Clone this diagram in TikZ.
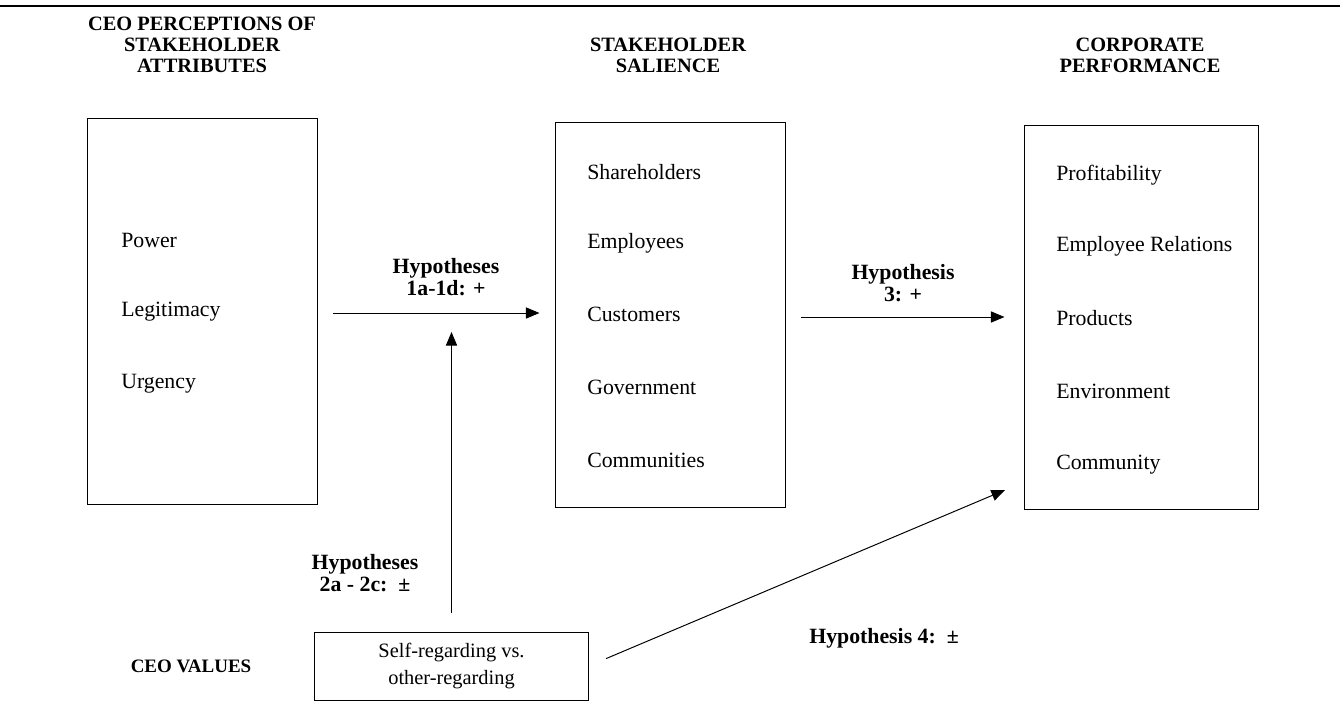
\documentclass[tikz,border=0pt]{standalone}
\usepackage{fontspec}
\setmainfont{Liberation Serif}
\usetikzlibrary{arrows.meta,positioning}

\begin{document}
\begin{tikzpicture}[x=0.025cm, y=-0.025cm,
    panel/.style={draw=black, line width=0.7pt, inner sep=0pt},
    heading/.style={font=\fontsize{14.5}{15}\selectfont\bfseries, align=center},
    item/.style={font=\fontsize{15.5}{18}\selectfont, anchor=west, inner sep=0pt},
    hyplabel/.style={font=\fontsize{15.5}{15.8}\selectfont\bfseries, align=center},
    arrow/.style={-{Triangle[length=3.4mm,width=2.8mm]}, line width=0.7pt}
  ]
    \useasboundingbox (0,0) rectangle (1340,719);
    \draw[line width=1pt] (0,6) -- (1340,6);

    \node[heading] (attrtitle) at (202,45) {CEO PERCEPTIONS OF\\STAKEHOLDER\\ATTRIBUTES};
    \node[heading] (saltitle) at (668,55) {STAKEHOLDER\\SALIENCE};
    \node[heading] (perftitle) at (1140,55) {CORPORATE\\PERFORMANCE};

    \node[panel, minimum width=5.725cm, minimum height=9.625cm] (attr) at (202.5,311.5) {};
    \node[panel, minimum width=5.725cm, minimum height=9.6cm] (salience) at (670.5,315) {};
    \node[panel, minimum width=5.825cm, minimum height=9.575cm] (perf) at (1141.5,317.5) {};
    \node[panel, minimum width=6.825cm, minimum height=1.7cm,
      font=\fontsize{14.5}{18.5}\selectfont, align=center] (values) at (451.5,666)
      {Self-regarding vs.\\other-regarding};

    \node[item] (power) at (121,240) {Power};
    \node[item] (legit) at (121,312) {Legitimacy};
    \node[item] (urgency) at (121,384) {Urgency};

    \node[item] (share) at (587,172) {Shareholders};
    \node[item] (empl) at (587,243) {Employees};
    \node[item] (cust) at (587,314) {Customers};
    \node[item] (gov) at (587,387) {Government};
    \node[item] (comms) at (587,460) {Communities};

    \node[item] (profit) at (1056,175) {Profitability};
    \node[item] (emprel) at (1056,246) {Employee Relations};
    \node[item] (products) at (1056,318) {Products};
    \node[item] (environ) at (1056,391) {Environment};
    \node[item] (community) at (1056,465) {Community};

    \node[hyplabel] (hypone) at (446,277) {Hypotheses\\1a-1d: +};
    \node[hyplabel] (hypthree) at (903,283) {Hypothesis\\3: +};
    \node[hyplabel] (hyptwo) at (365,573) {Hypotheses\\2a - 2c:\ \ ±};
    \node[hyplabel] (hypfour) at (884,638) {Hypothesis 4:\ \ ±};
    \node[hyplabel, font=\fontsize{13.5}{14}\selectfont\bfseries] (ceovalues) at (191,666) {CEO VALUES};

    \coordinate (h1tail) at (333,313);
    \coordinate (h3tail) at (801,317);
    \coordinate (h2tip) at (451.5,332);
    \coordinate (h4tip) at (1005,490);

    \draw[arrow, shorten >=0.4cm] (h1tail) -- (h1tail -| salience.west);
    \draw[arrow, shorten >=0.5cm] (h3tail) -- (h3tail -| perf.west);
    \draw[arrow, shorten <=0.475cm] (values.north) -- (h2tip);
    \draw[arrow, shorten <=0.475cm] (values.east) -- (h4tip);
  \end{tikzpicture}
\end{document}
